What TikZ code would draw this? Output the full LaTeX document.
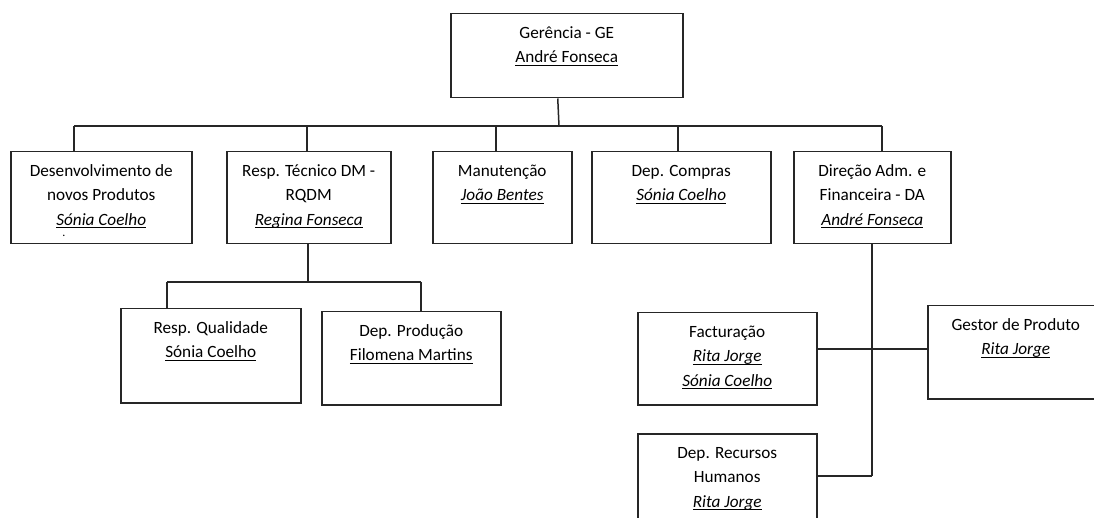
\documentclass[tikz,border=0pt]{standalone}
\usepackage{fontspec}
\setmainfont{Carlito}
\newlength\ulwd
\newcommand\ulx[1]{\settowidth\ulwd{#1}\rlap{\rule[-2.8pt]{\ulwd}{0.9pt}}#1}
\newcommand\sstrut{\rule{0pt}{13pt}}
\begin{document}
\begin{tikzpicture}[x=1pt,y=-1pt,
  box/.style={draw=black!85, line width=1.5pt, rectangle, inner sep=0pt, anchor=north west},
  lbl/.style={anchor=north, inner sep=0pt, align=center, text=black, font=\fontsize{17.2}{24.5}\selectfont},
  conn/.style={draw=black!85, line width=1.5pt}]
\useasboundingbox (0,0) rectangle (1094,518);
\clip (0,0) rectangle (1094,518);
% boxes
\node[box, minimum width=232pt, minimum height=84pt] (ge) at (450,13) {};
\node[box, minimum width=181pt, minimum height=92pt] (dev) at (10,151) {};
\node[box, minimum width=164pt, minimum height=92pt] (rqdm) at (226,151) {};
\node[box, minimum width=139pt, minimum height=92pt] (man) at (432,151) {};
\node[box, minimum width=179pt, minimum height=92pt] (comp) at (591,151) {};
\node[box, minimum width=157pt, minimum height=92pt] (da) at (793,151) {};
\node[box, minimum width=180pt, minimum height=94pt] (qual) at (120,308) {};
\node[box, minimum width=179pt, minimum height=93pt] (prod) at (321,311) {};
\node[box, minimum width=179pt, minimum height=92pt] (fact) at (637,312) {};
\node[box, minimum width=176pt, minimum height=93pt] (gest) at (927,305) {};
\node[box, minimum width=179pt, minimum height=110pt] (rh) at (637,433) {};
% texts
\node[lbl] (ge-t) at ([yshift=-12pt]ge.north) {\sstrut Gerência - GE\\ \ulx{André Fonseca}};
\node[lbl] (dev-t) at ([yshift=-12pt]dev.north) {\sstrut Desenvolvimento de\\ novos Produtos\\ \ulx{\textit{Sónia Coelho}}};
\node[inner sep=0pt, font=\fontsize{12}{12}\selectfont] (dev-dot) at (64,236) {.};
\node[lbl] (rqdm-t) at ([yshift=-12pt]rqdm.north) {\sstrut Resp. Técnico DM -\\ RQDM\\ \ulx{\textit{Regina Fonseca}}};
\node[lbl] (man-t) at ([yshift=-12pt]man.north) {\sstrut Manutenção\\ \ulx{\textit{João Bentes}}};
\node[lbl] (comp-t) at ([yshift=-12pt]comp.north) {\sstrut Dep. Compras\\ \ulx{\textit{Sónia Coelho}}};
\node[lbl] (da-t) at ([yshift=-12pt]da.north) {\sstrut Direção Adm. e\\ Financeira - DA\\ \ulx{\textit{André Fonseca}}};
\node[lbl] (qual-t) at ([yshift=-12pt]qual.north) {\sstrut Resp. Qualidade\\ \ulx{Sónia Coelho}};
\node[lbl] (prod-t) at ([yshift=-12pt]prod.north) {\sstrut Dep. Produção\\ \ulx{Filomena Martins}};
\node[lbl] (fact-t) at ([yshift=-12pt]fact.north) {\sstrut Facturação\\ \ulx{\textit{Rita Jorge}}\\ \ulx{\textit{Sónia Coelho}}};
\node[lbl] (gest-t) at ([yshift=-12pt]gest.north) {\sstrut Gestor de Produto\\ \ulx{\textit{Rita Jorge}}};
\node[lbl] (rh-t) at ([yshift=-12pt]rh.north) {\sstrut Dep. Recursos\\ Humanos\\ \ulx{\textit{Rita Jorge}}};
% junction coordinates
\coordinate (bge) at (559,126);
\coordinate (b1) at (74,126);
\coordinate (b2) at (307,126);
\coordinate (b3) at (496,126);
\coordinate (b4) at (678,126);
\coordinate (b5) at (882,126);
\coordinate (r1) at (308,282);
\coordinate (r2) at (167,282);
\coordinate (r3) at (421,282);
\coordinate (d1) at (872,349);
\coordinate (d2) at (872,476);
% connectors
\draw[conn] ([xshift=-9pt]ge.south) -- (bge);
\draw[conn] (b1) -- (b5);
\draw[conn] (b1) -- (b1 |- dev.north);
\draw[conn] (b2) -- (b2 |- rqdm.north);
\draw[conn] (b3) -- (b3 |- man.north);
\draw[conn] (b4) -- (b4 |- comp.north);
\draw[conn] (b5) -- (b5 |- da.north);
\draw[conn] (r1 |- rqdm.south) -- (r1);
\draw[conn] (r2) -- (r3);
\draw[conn] (r2) -- (r2 |- qual.north);
\draw[conn] (r3) -- (r3 |- prod.north);
\draw[conn] (d1 |- da.south) -- (d2);
\draw[conn] (fact.east |- d1) -- (gest.west |- d1);
\draw[conn] (rh.east |- d2) -- (d2);
\end{tikzpicture}
\end{document}
